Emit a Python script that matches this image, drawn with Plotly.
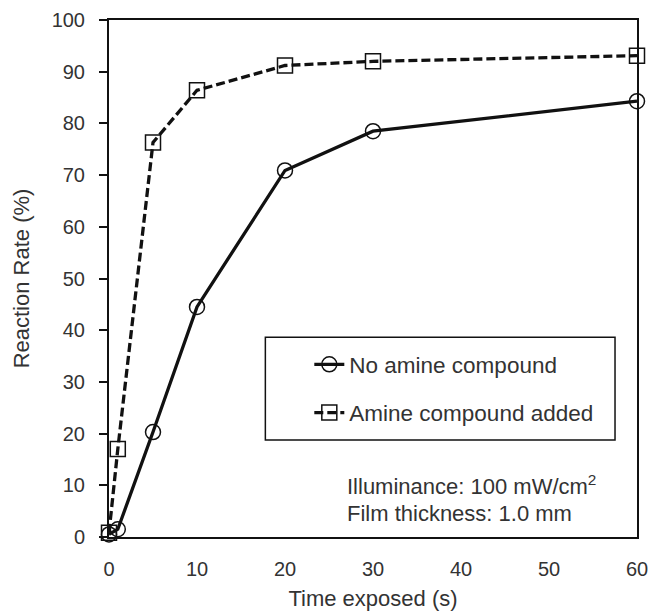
import plotly.graph_objects as go

time_no_amine = [0, 1, 5, 10, 20, 30, 60]
rate_no_amine = [0.5, 1.5, 20.3, 44.5, 70.9, 78.5, 84.3]
time_amine = [0, 1, 5, 10, 20, 30, 60]
rate_amine = [0.8, 17.0, 76.3, 86.4, 91.2, 92.0, 93.1]
name_no_amine = "No amine compound"
name_amine = "Amine compound added"
x_ticks = [0, 10, 20, 30, 40, 50, 60]
y_ticks = [0, 10, 20, 30, 40, 50, 60, 70, 80, 90, 100]
note_lines = ["Illuminance: 100 mW/cm<sup>2</sup>", "Film thickness: 1.0 mm"]

TXT = "#333333"
FONT = "Liberation Sans, Arial, Helvetica, sans-serif"

fig = go.Figure()
fig.add_trace(go.Scatter(
    x=time_no_amine, y=rate_no_amine, name=name_no_amine, mode="lines+markers",
    line=dict(color="#111111", width=3.3),
    marker=dict(symbol="circle-open", size=15, color="#111111", line=dict(width=1.5)),
    legendgroup="a", cliponaxis=False,
))
fig.add_trace(go.Scatter(
    x=time_amine, y=rate_amine, name=name_amine, mode="lines+markers",
    line=dict(color="#111111", width=3.3, dash="9px,4px"),
    marker=dict(symbol="square-open", size=15, color="#111111", line=dict(width=1.5)),
    legendgroup="b", cliponaxis=False,
))

W, H = 652, 614
L, R, T, B = 108.5, 15, 19.5, 77
pw, ph = W - L - R, H - T - B

def px2paper(px, py):
    return (px - L) / pw, (H - B - py) / ph

# legend frame
x0, y0 = px2paper(265, 337)
x1, y1 = px2paper(615, 440)
fig.add_shape(type="rect", xref="paper", yref="paper", x0=x0, y0=y1, x1=x1, y1=y0,
              line=dict(color="#111111", width=1.5), fillcolor="rgba(0,0,0,0)")

lx, ly = px2paper(309, 343)
ax, ay1 = px2paper(345, 485)
_, ay2 = px2paper(345, 513)
fig.add_annotation(text=note_lines[0], xref="paper", yref="paper", x=ax, y=ay1,
                   xanchor="left", yanchor="middle", showarrow=False,
                   font=dict(size=22, color=TXT, family=FONT))
fig.add_annotation(text=note_lines[1], xref="paper", yref="paper", x=ax, y=ay2,
                   xanchor="left", yanchor="middle", showarrow=False,
                   font=dict(size=22, color=TXT, family=FONT))

fig.update_layout(
    width=W, height=H,
    margin=dict(l=L, r=R, t=T, b=B, autoexpand=False),
    paper_bgcolor="white", plot_bgcolor="white",
    font=dict(family=FONT, color=TXT, size=20),
    showlegend=True,
    legend=dict(x=lx, y=ly, xanchor="left", yanchor="top", bgcolor="rgba(0,0,0,0)",
                borderwidth=0, font=dict(size=22.5, color=TXT, family=FONT),
                tracegroupgap=16),
    xaxis=dict(range=[0, 60], tickvals=x_ticks, ticks="", showline=True, linecolor="#111111",
               linewidth=2, mirror=True, showgrid=False, zeroline=False, automargin=False,
               tickfont=dict(size=20, color=TXT), ticklabelstandoff=13,
               title=dict(text="Time exposed (s)", font=dict(size=22, color=TXT), standoff=12)),
    yaxis=dict(range=[0, 100], tickvals=y_ticks, ticks="outside", ticklen=8, tickwidth=2,
               tickcolor="#111111", showline=True, linecolor="#111111", linewidth=2,
               mirror=True, showgrid=False, zeroline=False, automargin=False,
               tickfont=dict(size=20, color=TXT), ticklabelstandoff=10,
               title=dict(text="Reaction Rate (%)", font=dict(size=22, color=TXT), standoff=16)),
)

fig.write_html("out.html", config={"displayModeBar": False},
               post_script="document.body.style.margin='0';document.body.style.padding='0';")
